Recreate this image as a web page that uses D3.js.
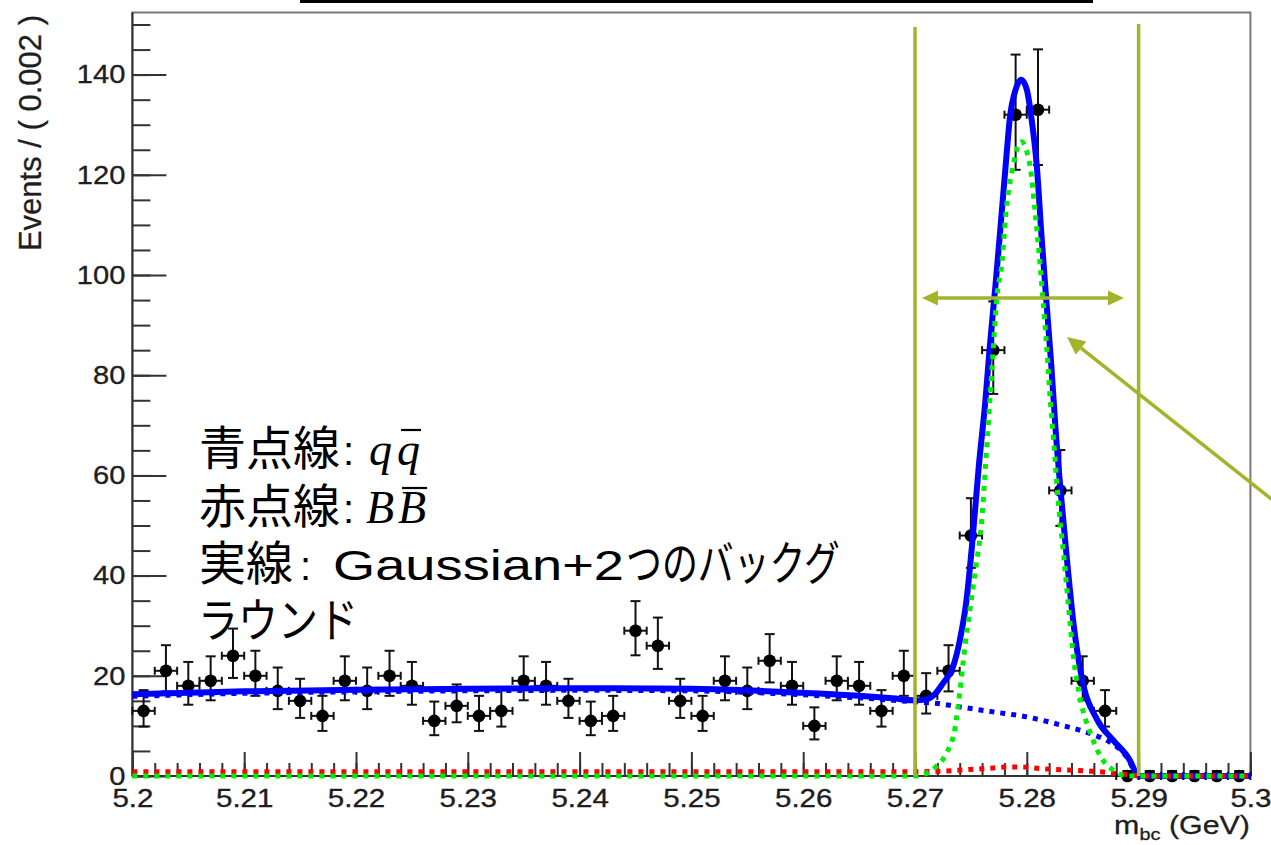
<!DOCTYPE html>
<html>
<head>
<meta charset="utf-8">
<script src="https://cdn.jsdelivr.net/npm/d3@7/dist/d3.min.js"></script>
<style>
  html, body { margin: 0; padding: 0; background: #fff; }
  svg { display: block; }
</style>
</head>
<body>
<svg id="chart" width="1271" height="845"></svg>
<script>
// ---- m_bc histogram: bin centres (GeV, 0.002 GeV bins) and event counts ----
const binCenters = [5.201, 5.203, 5.205, 5.207, 5.209, 5.211, 5.213, 5.215, 5.217, 5.219,
                    5.221, 5.223, 5.225, 5.227, 5.229, 5.231, 5.233, 5.235, 5.237, 5.239,
                    5.241, 5.243, 5.245, 5.247, 5.249, 5.251, 5.253, 5.255, 5.257, 5.259,
                    5.261, 5.263, 5.265, 5.267, 5.269, 5.271, 5.273, 5.275, 5.277, 5.279,
                    5.281, 5.283, 5.285, 5.287, 5.289, 5.291, 5.293, 5.295, 5.297, 5.299];
const counts = [13, 21, 18, 19, 24, 20, 17, 15, 12, 19,
                17, 20, 18, 11, 14, 12, 13, 19, 18, 15,
                11, 12, 29, 26, 15, 12, 19, 17, 23, 18,
                10, 19, 18, 13, 20, 16, 21, 48, 85, 132,
                133, 57, 19, 13, 0, 0, 0, 0, 0, 0];
const binHalfWidth = 0.001;

// ---- fitted components sampled along m_bc: [GeV, events / 0.002 GeV] ----
// total: Gaussian + two backgrounds
const fitTotal = [[5.2000,16.3],[5.2050,16.6],[5.2100,16.9],[5.2200,17.2],[5.2300,17.4],[5.2400,17.5],
  [5.2500,17.4],[5.2550,17.1],[5.2600,16.6],[5.2650,16.0],[5.2680,15.5],[5.2700,15.1],[5.2710,15.3],
  [5.2718,16.4],[5.2725,18.5],[5.2734,21.8],[5.2740,27.0],[5.2746,35.0],[5.2751,46.0],[5.2757,61.7],
  [5.2763,75.0],[5.2767,86.0],[5.2772,98.0],[5.2776,108.3],[5.2781,121.6],[5.2785,131.6],[5.2790,137.0],
  [5.2795,139.0],[5.2800,137.0],[5.2804,131.6],[5.2809,121.6],[5.2813,108.3],[5.2817,96.3],[5.2822,81.7],
  [5.2826,68.4],[5.2831,55.1],[5.2836,43.0],[5.2842,30.0],[5.2849,19.8],[5.2863,11.2],
  [5.2877,7.2],[5.2892,3.2],[5.2898,0.5],[5.2900,0],[5.3000,0]];
// continuum q-qbar background
const fitQQbar = [[5.2000,15.9],[5.2100,16.5],[5.2200,16.8],[5.2300,17.0],[5.2400,17.1],[5.2500,17.0],
  [5.2550,16.7],[5.2600,16.2],[5.2650,15.6],[5.2700,14.8],[5.2719,14.5],[5.2740,13.8],[5.2770,12.8],
  [5.2800,11.8],[5.2830,10.2],[5.2860,8.2],[5.2874,6.8],[5.2889,3.9],[5.2898,0.5],[5.2900,0],[5.3000,0]];
// B-Bbar background
const fitBBbar = [[5.2000,0.85],[5.2700,0.85],[5.2728,1.0],[5.2749,1.3],[5.2770,1.6],[5.2782,1.8],
  [5.2794,1.8],[5.2812,1.5],[5.2824,1.3],[5.2836,1.2],[5.2854,1.0],[5.2866,0.85],[5.2880,0.5],
  [5.2895,0.15],[5.2900,0],[5.3000,0]];
// Gaussian signal
const fitSignal = [[5.2000,0],[5.2700,0],[5.2710,0.5],[5.2719,1.9],[5.2728,4.5],[5.2736,9.8],[5.2740,16.5],
  [5.2745,26.5],[5.2749,33.0],[5.2754,41.0],[5.2760,51.8],[5.2763,61.7],[5.2766,71.7],[5.2769,81.7],
  [5.2773,95.0],[5.2778,103.0],[5.2781,111.6],[5.2787,121.0],[5.2795,126.6],[5.2803,121.6],[5.2807,113.6],
  [5.2812,101.7],[5.2814,96.3],[5.2818,85.0],[5.2821,75.0],[5.2824,67.0],[5.2828,55.1],[5.2833,44.0],
  [5.2837,34.5],[5.2842,23.2],[5.2848,15.2],[5.2857,8.5],[5.2866,3.9],[5.2877,1.2],[5.2886,0.2],
  [5.2900,0],[5.3000,0]];

// ---- axis ticks and labels ----
const xTicks = [5.20, 5.21, 5.22, 5.23, 5.24, 5.25, 5.26, 5.27, 5.28, 5.29, 5.30];
const xTickLabels = ["5.2", "5.21", "5.22", "5.23", "5.24", "5.25", "5.26", "5.27", "5.28", "5.29", "5.3"];
const yTicks = [0, 20, 40, 60, 80, 100, 120, 140];
const yTickLabels = ["0", "20", "40", "60", "80", "100", "120", "140"];
const xTitle = "m";
const xTitleSub = "bc";
const xTitleUnit = " (GeV)";
const yTitle = "Events / ( 0.002 )";

// signal window marked on the plot
const windowLo = 5.27, windowHi = 5.29;

// ---------------------------------------------------------------------------
const svg = d3.select("#chart");
svg.append("rect").attr("width", 1271).attr("height", 845).attr("fill", "#fff");

const x = d3.scaleLinear().domain([5.2, 5.3]).range([132.4, 1250.4]);
const y = d3.scaleLinear().domain([0, 152.4]).range([776, 12.5]);
const axisColor = "#333";
const textColor = "#1e1e1e";
const sans = "'Liberation Sans', Arial, Helvetica, sans-serif";
const cjk = "'Noto Sans CJK JP', 'Noto Sans CJK SC', sans-serif";
const serif = "'Liberation Serif', 'DejaVu Serif', serif";

// title box edge at the very top
svg.append("rect").attr("x", 300).attr("y", 0).attr("width", 793).attr("height", 3).attr("fill", "#000");

// plot frame
svg.append("rect")
  .attr("x", x(5.2)).attr("y", y(152.4))
  .attr("width", x(5.3) - x(5.2)).attr("height", y(0) - y(152.4))
  .attr("fill", "none").attr("stroke", "#7a7a7a").attr("stroke-width", 2);

// minor ticks
const xMinor = d3.range(0, 51).map(i => 5.2 + i * 0.002);
const yMinor = d3.range(0, 31).map(i => i * 5);
const gxMinor = svg.append("g").attr("transform", `translate(0,${y(0)})`)
  .call(d3.axisBottom(x).tickValues(xMinor).tickSizeInner(-13).tickSizeOuter(0).tickFormat(""));
const gyMinor = svg.append("g").attr("transform", `translate(${x(5.2)},0)`)
  .call(d3.axisLeft(y).tickValues(yMinor).tickSizeInner(-18).tickSizeOuter(0).tickFormat(""));

// major ticks with labels
const gx = svg.append("g").attr("transform", `translate(0,${y(0)})`)
  .call(d3.axisBottom(x).tickValues(xTicks).tickSizeInner(-24).tickSizeOuter(0).tickPadding(13)
    .tickFormat((d, i) => xTickLabels[i]));
const gy = svg.append("g").attr("transform", `translate(${x(5.2)},0)`)
  .call(d3.axisLeft(y).tickValues(yTicks).tickSizeInner(-34).tickSizeOuter(0).tickPadding(7)
    .tickFormat((d, i) => yTickLabels[i]));

[gxMinor, gyMinor, gx, gy].forEach(g => {
  g.select(".domain").remove();
  g.selectAll(".tick line").attr("stroke", axisColor).attr("stroke-width", 2);
});
gx.selectAll(".tick text")
  .attr("font-family", sans).attr("font-size", 25).attr("fill", textColor)
  .attr("stroke", textColor).attr("stroke-width", 0.35)
  .attr("transform", "scale(1.18,1)");
gy.selectAll(".tick text")
  .attr("font-family", sans).attr("font-size", 26).attr("fill", textColor)
  .attr("stroke", textColor).attr("stroke-width", 0.35)
  .attr("x", -6.3).attr("transform", "scale(1.12,1)");

// axis lines
svg.append("line").attr("x1", x(5.2)).attr("x2", x(5.2)).attr("y1", y(152.4)).attr("y2", y(0))
  .attr("stroke", axisColor).attr("stroke-width", 2);
svg.append("line").attr("x1", x(5.2)).attr("x2", x(5.3)).attr("y1", y(0)).attr("y2", y(0))
  .attr("stroke", axisColor).attr("stroke-width", 2);

// axis titles
svg.append("text")
  .attr("transform", `translate(41,15) rotate(-90)`)
  .attr("text-anchor", "end").attr("font-family", sans).attr("font-size", 31).attr("fill", textColor)
  .attr("stroke", textColor).attr("stroke-width", 0.3)
  .text(yTitle);
const xt = svg.append("text")
  .attr("transform", "translate(1250,834) scale(1.17,1)")
  .attr("text-anchor", "end").attr("font-family", sans).attr("font-size", 26).attr("fill", textColor)
  .attr("stroke", textColor).attr("stroke-width", 0.3);
xt.append("tspan").text(xTitle);
xt.append("tspan").attr("font-size", 17).attr("dy", 6).text(xTitleSub);
xt.append("tspan").attr("dy", -6).text(xTitleUnit);

// ---- data points with Poisson error bars ----
function poissonInterval(n) {
  const s = Math.sqrt(n + 0.25);
  return [Math.max(0, n + 0.5 - s), n + 0.5 + s];
}
const pts = svg.append("g").attr("stroke", "#111").attr("stroke-width", 2);
binCenters.forEach((c, i) => {
  const n = counts[i];
  const [lo, hi] = poissonInterval(n);
  const cx = x(c), cy = y(n);
  const g = pts.append("g");
  g.append("line").attr("x1", cx).attr("x2", cx).attr("y1", y(lo)).attr("y2", y(hi));
  g.append("line").attr("x1", cx - 5).attr("x2", cx + 5).attr("y1", y(hi)).attr("y2", y(hi));
  g.append("line").attr("x1", cx - 5).attr("x2", cx + 5).attr("y1", y(lo)).attr("y2", y(lo));
  const xl = x(c - binHalfWidth), xr = x(c + binHalfWidth);
  g.append("line").attr("x1", xl).attr("x2", xr).attr("y1", cy).attr("y2", cy);
  g.append("line").attr("x1", xl).attr("x2", xl).attr("y1", cy - 4).attr("y2", cy + 4);
  g.append("line").attr("x1", xr).attr("x2", xr).attr("y1", cy - 4).attr("y2", cy + 4);
  g.append("circle").attr("cx", cx).attr("cy", cy).attr("r", 6.3).attr("fill", "#000").attr("stroke", "none");
});

// ---- fit curves ----
const line = d3.line().x(d => x(d[0])).y(d => y(d[1])).curve(d3.curveMonotoneX);
const curves = svg.append("g").attr("fill", "none").attr("stroke-linejoin", "round");
curves.append("path").datum(fitTotal).attr("d", line)
  .attr("stroke", "#0000ff").attr("stroke-width", 6);
curves.append("path").datum(fitQQbar).attr("d", line)
  .attr("stroke", "#0000ff").attr("stroke-width", 5).attr("stroke-dasharray", "5,6");
curves.append("path").datum(fitBBbar).attr("d", line)
  .attr("stroke", "#ff0000").attr("stroke-width", 5).attr("stroke-dasharray", "5,6");
curves.append("path").datum(fitSignal).attr("d", line)
  .attr("stroke", "#00ee00").attr("stroke-width", 5).attr("stroke-dasharray", "5,6");

// ---- signal window annotation ----
const olive = "#a2b52a";
const ann = svg.append("g");
ann.append("line").attr("x1", x(windowLo)).attr("x2", x(windowLo)).attr("y1", 27).attr("y2", y(0))
  .attr("stroke", olive).attr("stroke-width", 3.5);
ann.append("line").attr("x1", x(windowHi)).attr("x2", x(windowHi)).attr("y1", 24).attr("y2", y(0))
  .attr("stroke", olive).attr("stroke-width", 3.5);

function arrowHead(tip, from, len, half) {
  const dx = from[0] - tip[0], dy = from[1] - tip[1];
  const L = Math.hypot(dx, dy), ux = dx / L, uy = dy / L;
  const bx = tip[0] + ux * len, by = tip[1] + uy * len;
  ann.append("polygon")
    .attr("points", [[tip[0], tip[1]], [bx - uy * half, by + ux * half], [bx + uy * half, by - ux * half]]
      .map(p => p.join(",")).join(" "))
    .attr("fill", olive);
  return [bx, by];
}
// double arrow across the window
const arY = 298;
const aL = arrowHead([922, arY], [1124, arY], 16, 7.5);
const aR = arrowHead([1124, arY], [922, arY], 16, 7.5);
ann.append("line").attr("x1", aL[0]).attr("x2", aR[0]).attr("y1", arY).attr("y2", arY)
  .attr("stroke", olive).attr("stroke-width", 3.5);
// pointer arrow from the right edge
const tip = [1067, 337], tail = [1275, 502];
const b = arrowHead(tip, tail, 18, 8.5);
ann.append("line").attr("x1", b[0]).attr("y1", b[1]).attr("x2", tail[0]).attr("y2", tail[1])
  .attr("stroke", olive).attr("stroke-width", 3.5);

// ---- legend text ----
const notes = svg.append("g").attr("fill", "#000");
function seg(xp, base, txt, family, size, width, italic) {
  const t = notes.append("text").attr("x", xp).attr("y", base)
    .attr("font-family", family).attr("font-size", size).text(txt);
  if (italic) t.attr("font-style", "italic");
  if (width) t.attr("textLength", width).attr("lengthAdjust", "spacingAndGlyphs");
  return t;
}
function barOver(t) {
  const bb = t.node().getBBox();
  notes.append("line").attr("x1", bb.x + 4).attr("x2", bb.x + bb.width + 1)
    .attr("y1", bb.y + 6).attr("y2", bb.y + 6).attr("stroke", "#000").attr("stroke-width", 2.2);
}
// line 1: blue dotted = q qbar
seg(199, 465, "青点線", cjk, 47);
seg(343, 465, ":", sans, 40);
seg(369, 465, "q", serif, 46, null, true);
barOver(seg(397, 465, "q", serif, 46, null, true));
// line 2: red dotted = B Bbar
seg(199, 523, "赤点線", cjk, 47);
seg(343, 523, ":", sans, 40);
seg(366, 523, "B", serif, 46, null, true);
barOver(seg(398, 523, "B", serif, 46, null, true));
// lines 3-4: solid = Gaussian + two backgrounds
seg(199, 580, "実線", cjk, 47);
seg(300, 580, ":", sans, 40);
seg(333, 580, "Gaussian+2", sans, 42, 291);
seg(626, 580, "つのバックグ", cjk, 47, 214);
seg(198, 637, "ラウンド", cjk, 47, 160);
</script>
</body>
</html>
